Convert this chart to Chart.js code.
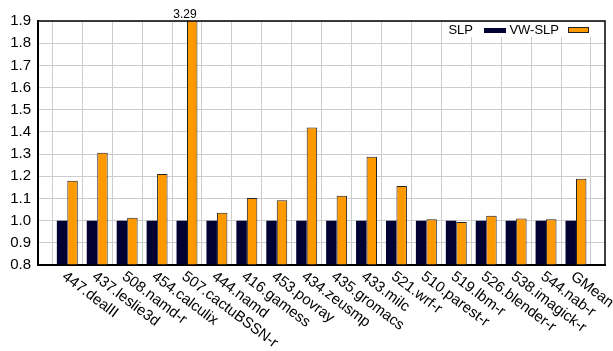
<!DOCTYPE html>
<html>
<head>
<meta charset="utf-8">
<script src="https://cdn.jsdelivr.net/npm/chart.js@4.4.1/dist/chart.umd.min.js"></script>
<style>
  html, body { margin: 0; padding: 0; background: #fff; }
</style>
</head>
<body>
<canvas id="speedupChart" width="613" height="351"></canvas>
<script>
// benchmarks along the x axis
var benchmarks = ['447.dealII', '437.leslie3d', '508.namd-r', '454.calculix', '507.cactuBSSN-r',
    '444.namd', '416.gamess', '453.povray', '434.zeusmp', '435.gromacs', '433.milc', '521.wrf-r',
    '510.parest-r', '519.lbm-r', '526.blender-r', '538.imagick-r', '544.nab-r', 'GMean'];

// speedup, normalised to SLP
var slpValues = [1.00, 1.00, 1.00, 1.00, 1.00, 1.00, 1.00, 1.00, 1.00,
    1.00, 1.00, 1.00, 1.00, 1.00, 1.00, 1.00, 1.00, 1.00];
var vwSlpValues = [1.18, 1.306, 1.013, 1.21, 3.29, 1.036, 1.102, 1.092, 1.42,
    1.112, 1.288, 1.156, 1.006, 0.994, 1.022, 1.010, 1.006, 1.189];

// y axis range
var yMin = 0.8;
var yMax = 1.9;
var yStep = 0.1;

var FONT = 'Liberation Sans, Arial, Helvetica, sans-serif';
Chart.defaults.font.family = FONT;
Chart.defaults.color = '#000';

// frame, rotated benchmark names, clipped-bar value and the in-plot legend
var decorations = {
    id: 'decorations',
    afterDraw: function (chart) {
        var ctx = chart.ctx;
        var area = chart.chartArea;
        var xScale = chart.scales.x;

        ctx.save();
        ctx.strokeStyle = '#000';
        ctx.lineWidth = 1.5;
        ctx.strokeRect(area.left, area.top, area.right - area.left, area.bottom - area.top);

        // benchmark names, rotated clockwise
        ctx.font = '15px ' + FONT;
        ctx.fillStyle = '#000';
        ctx.textAlign = 'left';
        ctx.textBaseline = 'top';
        benchmarks.forEach(function (name, i) {
            var px = xScale.getPixelForTick(i);
            ctx.save();
            ctx.translate(px + 1, area.bottom + 4);
            ctx.rotate(37 * Math.PI / 180);
            ctx.fillText(name, 0, 0);
            ctx.restore();
        });

        // values that run off the top of the plot
        ctx.font = '12px ' + FONT;
        ctx.textAlign = 'center';
        ctx.textBaseline = 'bottom';
        vwSlpValues.forEach(function (v, i) {
            if (v > yMax) {
                ctx.fillText(v.toFixed(2), xScale.getPixelForTick(i) - 2, area.top);
            }
        });

        // legend: label first, then swatch
        var R = area.right;
        var T = area.top;
        ctx.fillStyle = '#fff';
        ctx.fillRect(R - 161, T + 1, 159, 15);
        ctx.font = '13px ' + FONT;
        ctx.textAlign = 'right';
        ctx.textBaseline = 'middle';
        ctx.fillStyle = '#000';
        ctx.fillText(chart.data.datasets[0].label, R - 132, T + 9);
        ctx.fillText(chart.data.datasets[1].label, R - 46, T + 9);
        ctx.fillStyle = chart.data.datasets[0].backgroundColor;
        ctx.fillRect(R - 121, T + 7, 22, 5);
        ctx.fillStyle = chart.data.datasets[1].backgroundColor;
        ctx.fillRect(R - 37, T + 7, 21, 5);
        ctx.strokeStyle = '#222';
        ctx.lineWidth = 1;
        ctx.strokeRect(R - 36.5, T + 6.5, 20, 5);
        ctx.restore();
    }
};

var ctx = document.getElementById('speedupChart').getContext('2d');

var speedupChart = new Chart(ctx, {
    type: 'bar',
    data: {
        labels: benchmarks,
        datasets: [{
            label: 'SLP',
            data: slpValues,
            backgroundColor: '#000033',
            borderWidth: 0,
            categoryPercentage: 0.7,
            barPercentage: 1.0,
            clip: 0
        }, {
            label: 'VW-SLP',
            data: vwSlpValues,
            backgroundColor: '#ff9900',
            borderColor: '#222',
            borderWidth: 1,
            categoryPercentage: 0.7,
            barPercentage: 1.0,
            clip: 0
        }]
    },
    options: {
        responsive: false,
        animation: false,
        devicePixelRatio: 1,
        layout: {
            padding: { top: 21, right: 8, bottom: 86, left: 0 }
        },
        plugins: {
            legend: { display: false },
            tooltip: { enabled: false }
        },
        scales: {
            x: {
                type: 'category',
                offset: true,
                grid: { offset: true, color: '#cccccc', lineWidth: 1, drawTicks: false },
                border: { color: '#000', width: 2 },
                ticks: { display: false },
                // leave some empty room on both sides of the groups
                afterBuildTicks: function (scale) {
                    scale._startValue = -0.98;
                    scale._valueRange = benchmarks.length + 0.95;
                }
            },
            y: {
                min: yMin,
                max: yMax,
                grid: { color: '#cccccc', lineWidth: 1, drawTicks: false },
                border: { color: '#000', width: 2 },
                ticks: {
                    stepSize: yStep,
                    padding: 7,
                    font: { size: 15 },
                    callback: function (v) { return v.toFixed(1); }
                },
                afterFit: function (scale) { scale.width = 38; }
            }
        }
    },
    plugins: [decorations]
});
</script>
</body>
</html>
